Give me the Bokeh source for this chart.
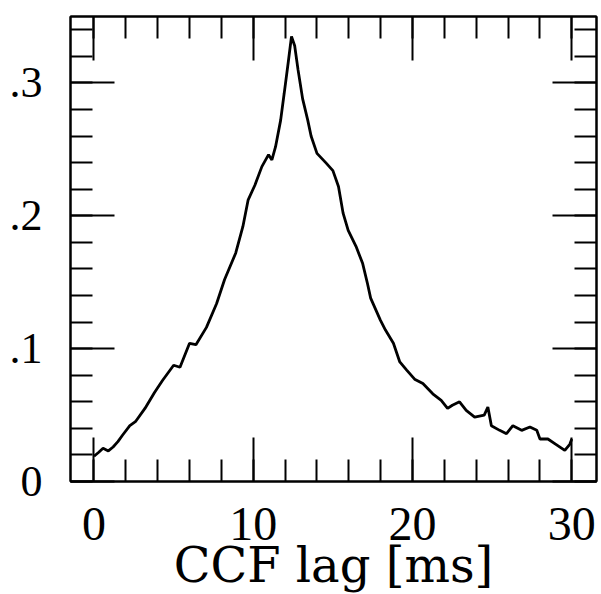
from bokeh.plotting import figure
from bokeh.models import LinearAxis, FixedTicker, Range1d, CustomJSTickFormatter
from bokeh.embed import file_html
from bokeh.resources import INLINE

# CCF lag [ms]
lag_ms = [0.0, 0.3, 0.57, 0.9, 1.2, 1.5, 1.8, 2.25, 2.6, 3.2, 3.8, 4.3, 5.0, 5.4,
          6.0, 6.4, 7.06, 7.7, 8.2, 8.9, 9.35, 9.68, 10.1, 10.54, 10.96, 11.17,
          11.4, 11.72, 11.94, 12.19, 12.4, 12.6, 12.81, 13.1, 13.42, 13.63, 14.0,
          14.55, 15.0, 15.35, 15.64, 15.96, 16.45, 16.87, 17.17, 17.37, 17.98,
          18.3, 18.8, 19.2, 19.62, 20.13, 20.65, 21.27, 21.8, 22.2, 22.5, 22.95,
          23.37, 23.9, 24.5, 24.73, 24.95, 25.47, 25.9, 26.3, 26.85, 27.37, 27.8,
          28.0, 28.5, 29.0, 29.56, 29.87, 30.0]
# cross-correlation function value
ccf = [0.019, 0.022, 0.025, 0.023, 0.026, 0.030, 0.035, 0.042, 0.045, 0.055,
       0.067, 0.076, 0.0875, 0.086, 0.104, 0.103, 0.116, 0.134, 0.152, 0.172,
       0.192, 0.212, 0.223, 0.237, 0.246, 0.242, 0.252, 0.272, 0.292, 0.315,
       0.335, 0.328, 0.31, 0.288, 0.272, 0.26, 0.247, 0.24, 0.234, 0.222, 0.202,
       0.189, 0.177, 0.164, 0.149, 0.138, 0.1215, 0.114, 0.104, 0.090, 0.084,
       0.077, 0.0737, 0.066, 0.061, 0.055, 0.0574, 0.06, 0.0536, 0.0485, 0.05,
       0.056, 0.042, 0.0385, 0.036, 0.042, 0.0385, 0.041, 0.0385, 0.032, 0.032,
       0.028, 0.0234, 0.028, 0.032]

x_major = [0, 10, 20, 30]
x_minor = [-2, 0, 2, 4, 6, 8, 10, 12, 14, 16, 18, 20, 22, 24, 26, 28, 30, 32]
y_major = [0, 0.1, 0.2, 0.3]
y_minor = [0.0, 0.02, 0.04, 0.06, 0.08, 0.1, 0.12, 0.14, 0.16, 0.18, 0.2,
           0.22, 0.24, 0.26, 0.28, 0.3, 0.32, 0.34]
x_label = "CCF lag [ms]"

p = figure(frame_width=526, frame_height=465, output_backend="svg",
           toolbar_location=None,
           x_range=Range1d(-1.475, 31.55), y_range=Range1d(0, 0.35),
           x_axis_location=None, y_axis_location=None,
           min_border_top=16, min_border_right=2, min_border_left=70,
           min_border_bottom=0)
p.outline_line_color = "black"
p.outline_line_width = 2
p.background_fill_color = "white"
p.border_fill_color = "white"
p.xgrid.visible = False
p.ygrid.visible = False

tick_font = "Liberation Serif"

def style(ax, labels=True, size="46px"):
    ax.axis_line_width = 2
    ax.axis_line_color = "black"
    ax.major_tick_in = 44
    ax.major_tick_out = 0
    ax.minor_tick_in = 22
    ax.minor_tick_out = 0
    ax.major_tick_line_width = 2
    ax.minor_tick_line_width = 2
    ax.major_tick_line_color = "black"
    ax.minor_tick_line_color = "black"
    if labels:
        ax.major_label_text_font = tick_font
        ax.major_label_text_font_size = size
        ax.major_label_text_color = "black"
    else:
        ax.formatter = CustomJSTickFormatter(code="return ''")
        ax.major_label_text_font_size = "0px"
        ax.major_label_standoff = 0

yfmt = CustomJSTickFormatter(code="""
    if (Math.abs(tick) < 1e-9) return '0';
    return '.' + Math.round(tick * 10).toString();
""")

left = LinearAxis(ticker=FixedTicker(ticks=y_major, minor_ticks=y_minor), formatter=yfmt)
style(left, size="44px")
left.major_label_standoff = 28
p.add_layout(left, "left")

right = LinearAxis(ticker=FixedTicker(ticks=y_major, minor_ticks=y_minor))
style(right, labels=False)
p.add_layout(right, "right")

bottom = LinearAxis(ticker=FixedTicker(ticks=x_major, minor_ticks=x_minor))
style(bottom, size="48px")
bottom.major_label_standoff = 26
bottom.axis_label = x_label
bottom.axis_label_text_font = "DejaVu Serif"
bottom.axis_label_text_font_size = "48px"
bottom.axis_label_text_font_style = "normal"
bottom.axis_label_text_color = "black"
bottom.axis_label_standoff = -6
p.add_layout(bottom, "below")

top = LinearAxis(ticker=FixedTicker(ticks=x_major, minor_ticks=x_minor))
style(top, labels=False)
p.add_layout(top, "above")

p.line(lag_ms, ccf, line_width=2.8, line_color="black")

open("out.html", "w").write(file_html(p, INLINE))
